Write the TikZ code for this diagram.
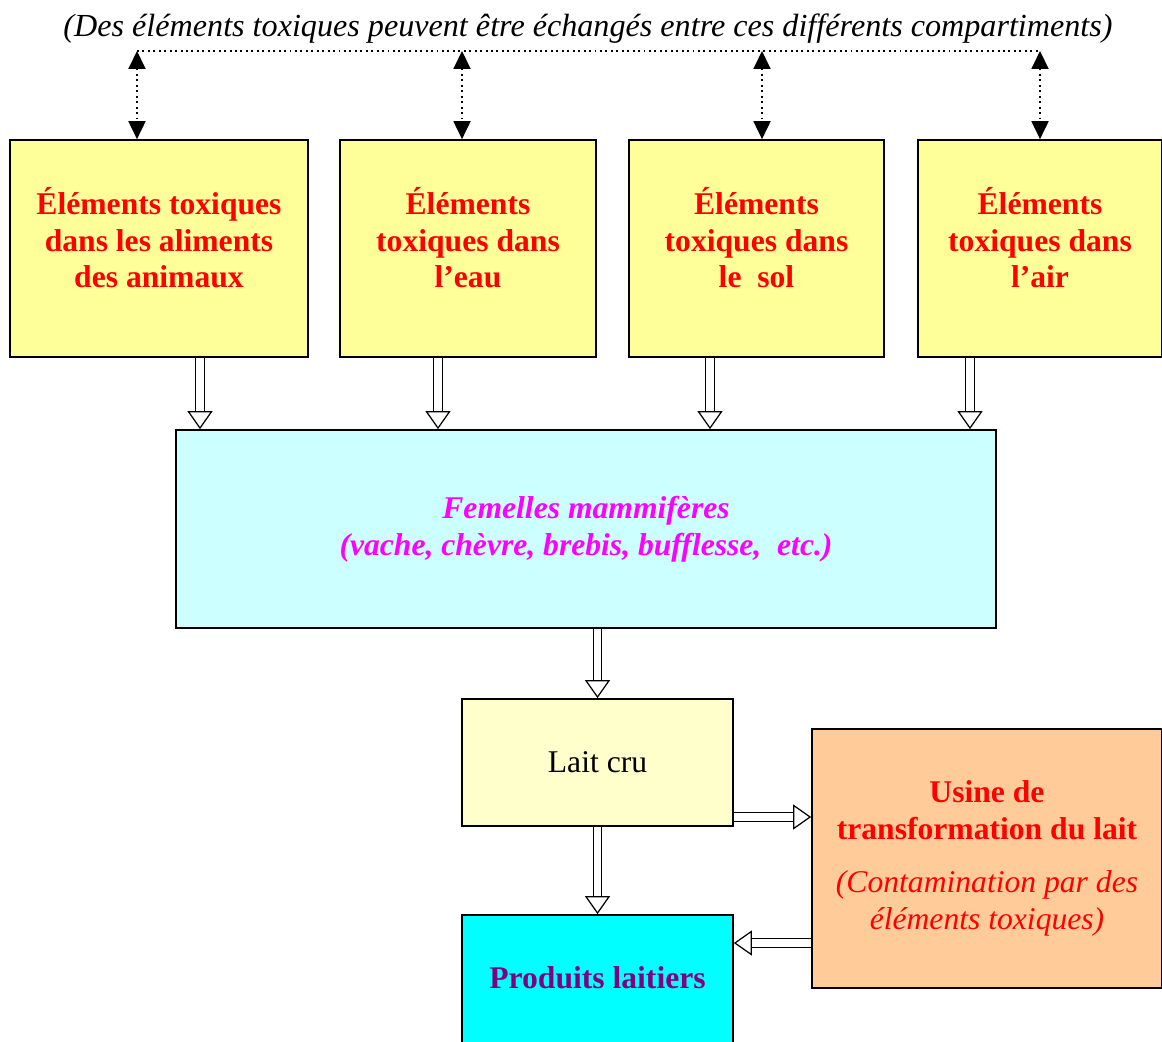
\documentclass[tikz,border=0pt]{standalone}
\usepackage{fontspec}
\setmainfont{Liberation Serif}
\usetikzlibrary{arrows.meta}

\definecolor{boxyellow}{HTML}{FFFF99}
\definecolor{boxcyan}{HTML}{CCFFFF}
\definecolor{boxcream}{HTML}{FFFFCC}
\definecolor{boxorange}{HTML}{FFCC99}
\definecolor{boxaqua}{HTML}{00FFFF}
\definecolor{txtpurple}{HTML}{800080}
\definecolor{txtmagenta}{HTML}{FF00FF}

\tikzset{
  box/.style={draw, line width=1pt, align=center, inner sep=0pt,
    font=\fontsize{18}{21}\selectfont},
  toxbox/.style={box, fill=boxyellow, text=red, font=\fontsize{18}{21}\selectfont\bfseries,
    minimum width=#1, minimum height=4.34cm, text depth=0.44cm},
  hollow/.style={double, double distance=0.15cm, line width=0.7pt,
    -{Triangle[open, fill=white, length=0.36cm, width=0.5cm]}},
  dotarrow/.style={dotted, line width=1.1pt,
    {Triangle[length=0.36cm, width=0.34cm]}-{Triangle[length=0.36cm, width=0.34cm]}}
}

\begin{document}
\begin{tikzpicture}[x=0.02cm, y=-0.02cm]
  \useasboundingbox (0,0) rectangle (1162,1041);

  % Nodes
  \node[font=\fontsize{18.3}{21}\selectfont\itshape] (title) at (588,29)
    {(Des éléments toxiques peuvent être échangés entre ces différents compartiments)};

  \node[toxbox=5.96cm] (e1) at (159,248.5) {Éléments toxiques\\dans les aliments\\des animaux};
  \node[toxbox=5.12cm] (e2) at (468,248.5) {Éléments\\toxiques dans\\l’eau};
  \node[toxbox=5.10cm] (e3) at (756.5,248.5) {Éléments\\toxiques dans\\le\ \ sol};
  \node[toxbox=4.88cm] (e4) at (1040,248.5) {Éléments\\toxiques dans\\l’air};

  \node[box, fill=boxcyan, text=txtmagenta, font=\fontsize{18}{21}\selectfont\bfseries\itshape,
    minimum width=16.4cm, minimum height=3.96cm] (fem) at (586,529)
    {Femelles mammifères\\(vache, chèvre, brebis, bufflesse,\ \ etc.)};

  \node[box, fill=boxcream, minimum width=5.42cm, minimum height=2.54cm] (lait) at (597.5,762.5) {Lait cru};

  \node[box, fill=boxorange, text=red, minimum width=7cm, minimum height=5.18cm] (usine) at (987,858.5)
    {\textbf{Usine de}\\\textbf{transformation du lait}\\[0.32cm]\textit{(Contamination par des}\\\textit{éléments toxiques)}};

  \node[box, fill=boxaqua, text=txtpurple, font=\fontsize{18}{21}\selectfont\bfseries,
    minimum width=5.42cm, minimum height=3cm, text depth=0.5cm] (prod) at (597.5,990) {Produits laitiers};

  % Dotted exchanges
  \coordinate (d1) at (137,51);
  \coordinate (d2) at (462,51);
  \coordinate (d3) at (762,51);
  \coordinate (d4) at (1040,51);
  \draw[dotted, line width=1.1pt] (d1) -- (d4);
  \draw[dotarrow] (d1) -- (d1 |- e1.north);
  \draw[dotarrow] (d2) -- (d2 |- e2.north);
  \draw[dotarrow] (d3) -- (d3 |- e3.north);
  \draw[dotarrow] (d4) -- (d4 |- e4.north);

  % Paths
  \draw[hollow] (e1.south -| 200,0) -- (fem.north -| 200,0);
  \draw[hollow] (e2.south -| 438,0) -- (fem.north -| 438,0);
  \draw[hollow] (e3.south -| 710,0) -- (fem.north -| 710,0);
  \draw[hollow] (e4.south -| 970,0) -- (fem.north -| 970,0);
  \draw[hollow] (fem.south -| lait.north) -- (lait.north);
  \draw[hollow] (lait.south) -- (prod.north);
  \draw[hollow] (lait.east |- 0,817) -- (usine.west |- 0,817);
  \draw[hollow] (usine.west |- 0,943) -- (prod.east |- 0,943);
\end{tikzpicture}
\end{document}
